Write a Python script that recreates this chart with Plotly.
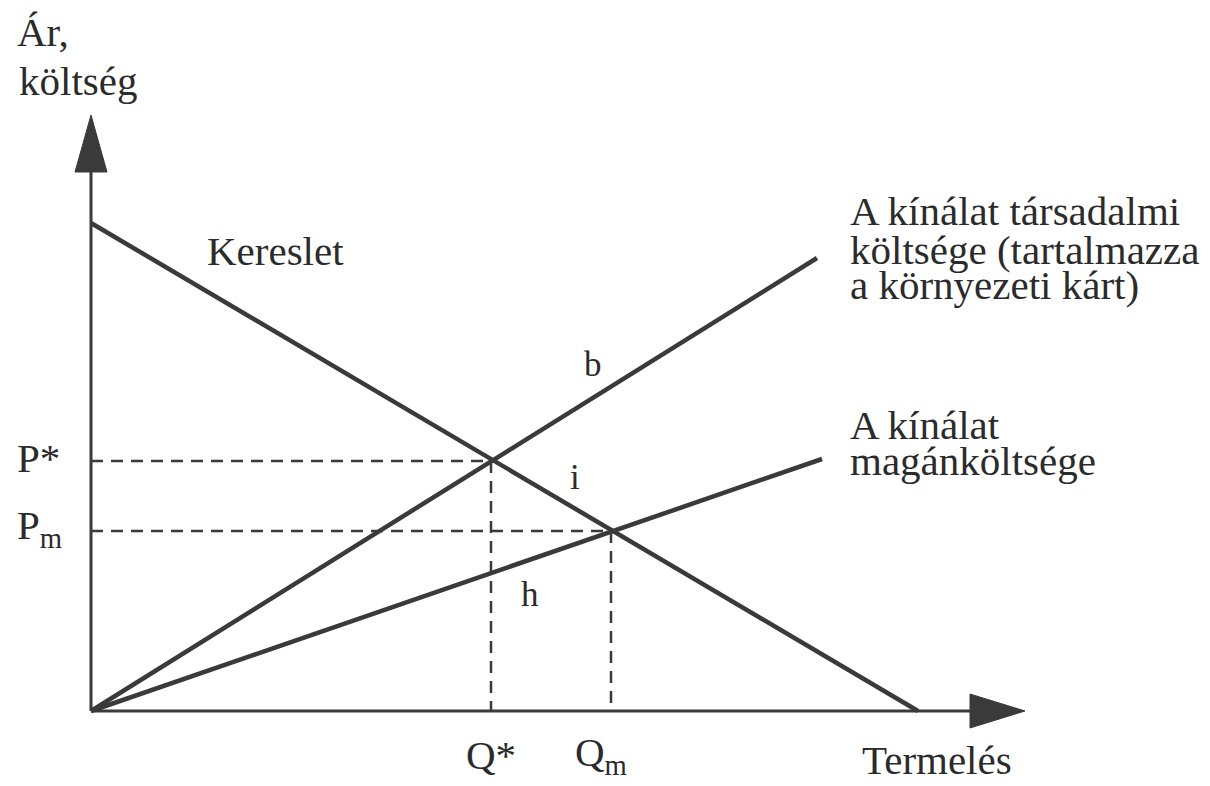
import plotly.graph_objects as go

# ---- data (economic units) ----
Q_star, P_star = 4.0, 2.5
Q_m, P_m = 5.2, 1.8
demand_q = [0.0, 8.27]
demand_p = [4.88, 0.0]
social_q = [0.0, 7.26]
social_p = [0.0, 4.53]
private_q = [0.0, 7.31]
private_p = [0.0, 2.52]
x_axis_end = 8.79
y_axis_end = 5.39
x_arrow_tip = 9.34
y_arrow_tip = 5.96

INK = "#3a3a3a"
TXT = "#2b2b2b"
FONT = "Liberation Serif"
FS = 41
FS_SMALL = 35

fig = go.Figure()

def line(xs, ys, width, dash="solid", color=INK):
    fig.add_trace(go.Scatter(x=xs, y=ys, mode="lines",
                             line=dict(color=color, width=width, dash=dash),
                             hoverinfo="skip", showlegend=False))

# dashed guides
line([0, Q_star, Q_star], [P_star, P_star, 0], 2.5, dash="12px,8px")
line([0, Q_m, Q_m], [P_m, P_m, 0], 2.5, dash="12px,8px")

# axes
line([0, 0], [0, y_axis_end], 3)
line([0, x_axis_end], [0, 0], 3)

# curves
line(demand_q, demand_p, 4.5)
line(social_q, social_p, 4.5)
line(private_q, private_p, 4.5)

# arrowheads
fig.add_shape(type="path", xref="x", yref="y",
              path=f"M -0.16,{y_axis_end} L 0,{y_arrow_tip} L 0.16,{y_axis_end} Z",
              fillcolor=INK, line=dict(color=INK, width=1))
fig.add_shape(type="path", xref="x", yref="y",
              path=f"M {x_axis_end},-0.17 L {x_arrow_tip},0 L {x_axis_end},0.17 Z",
              fillcolor=INK, line=dict(color=INK, width=1))

def label(text, x, y, xanchor="left", size=FS):
    fig.add_annotation(text=text, x=x, y=y, xref="x", yref="y",
                       xanchor=xanchor, yanchor="middle", showarrow=False,
                       font=dict(family=FONT, size=size, color=TXT))

label("Ár,", -0.76, 6.79)
label("költség", -0.74, 6.30)
label("Kereslet", 1.14, 4.60)
label("A kínálat társadalmi", 7.57, 5.00)
label("költsége (tartalmazza", 7.57, 4.61)
label("a környezeti kárt)", 7.57, 4.26)
label("A kínálat", 7.57, 2.86)
label("magánköltsége", 7.57, 2.50)
label("b", 5.02, 3.47, xanchor="center", size=FS_SMALL)
label("i", 4.84, 2.34, xanchor="center", size=FS_SMALL)
label("h", 4.39, 1.17, xanchor="center", size=FS_SMALL)
label("P*", -0.76, 2.53)
label("P<sub>m</sub>", -0.76, 1.83)
label("Q*", Q_star, -0.44, xanchor="center")
label("Q<sub>m</sub>", 4.82, -0.44)
label("Termelés", 7.69, -0.49)

# page body has an 8px margin: figure spans window pixels 8..1202 x 8..786
fig.update_xaxes(range=[-0.83, 11.11], visible=False, fixedrange=True)
fig.update_yaxes(range=[-0.75, 7.03], visible=False, fixedrange=True)
fig.update_layout(width=1194, height=778, autosize=False,
                  margin=dict(l=0, r=0, t=0, b=0),
                  plot_bgcolor="white", paper_bgcolor="white")

fig.write_html("out.html")
